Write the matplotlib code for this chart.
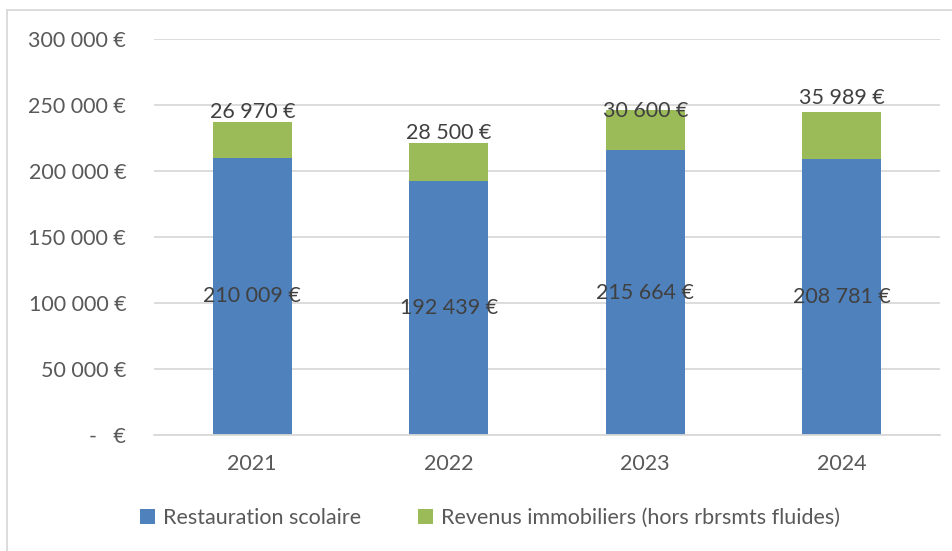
import matplotlib.pyplot as plt
from matplotlib.lines import Line2D
import numpy as np

plt.rcParams['font.family'] = ['Lato', 'DejaVu Sans']

years = ["2021", "2022", "2023", "2024"]
restauration = [210009, 192439, 215664, 208781]
revenus = [26970, 28500, 30600, 35989]
yticks = [0, 50000, 100000, 150000, 200000, 250000, 300000]

blue = "#4f81bd"
green = "#9bbb59"
tick_col = "#595959"
lab_col = "#404040"
fs = 15.5


def eur(v):
    if v == 0:
        return "-   €"
    return "{:,}".format(v).replace(",", " ") + " €"


fig = plt.figure(figsize=(9.53, 5.51), dpi=100)
ax = fig.add_axes([154 / 953, 1 - 435 / 551, (940 - 154) / 953, (435 - 39) / 551])

x = np.arange(len(years))
b1 = ax.bar(x, restauration, width=0.4, color=blue, label="Restauration scolaire", zorder=2)
b2 = ax.bar(x, revenus, width=0.4, bottom=restauration, color=green,
            label="Revenus immobiliers (hors rbrsmts fluides)", zorder=2)

ax.set_xlim(-0.5, len(years) - 0.5)
ax.set_ylim(0, 300000)
ax.set_yticks(yticks)
ax.set_yticklabels([eur(v) for v in yticks])
ax.set_xticks(x)
ax.set_xticklabels(years)
ax.tick_params(axis="both", length=0, labelsize=fs, colors=tick_col)
ax.tick_params(axis="y", pad=20)
ax.tick_params(axis="x", pad=14)
ax.grid(axis="y", color="#d9d9d9", linewidth=1.3, zorder=0)
for s in ["top", "right", "left"]:
    ax.spines[s].set_visible(False)
ax.spines["bottom"].set_color("#d9d9d9")
ax.spines["bottom"].set_linewidth(1.3)

# labels in the blue segments
for xi, r in zip(x, restauration):
    ax.text(xi, r / 2, eur(r), ha="center", va="center", fontsize=fs, color=lab_col, zorder=3)

# labels on top of the green segments (Excel placement is a bit uneven)
offsets = [0, 0, -8, 3]
for xi, r, g, off in zip(x, restauration, revenus, offsets):
    ax.annotate(eur(g), (xi, r + g), xytext=(0, off), textcoords="offset points",
                ha="center", va="bottom", fontsize=fs, color=lab_col, zorder=3)

leg = fig.legend(handles=[b1, b2], loc="center", bbox_to_anchor=(490 / 953, 1 - 518 / 551),
                 ncol=2, frameon=False, fontsize=fs, handlelength=0.7, handleheight=0.7,
                 handletextpad=0.4, columnspacing=2.6)
for t in leg.get_texts():
    t.set_color(tick_col)

# chart border (top and left visible in the crop)
fig.add_artist(Line2D([7 / 953, 7 / 953], [0, 1 - 10 / 551], transform=fig.transFigure,
                      color="#d9d9d9", linewidth=1.3))
fig.add_artist(Line2D([7 / 953, 1], [1 - 10 / 551, 1 - 10 / 551], transform=fig.transFigure,
                      color="#d9d9d9", linewidth=1.3))

fig.savefig("out.png", dpi=100)
